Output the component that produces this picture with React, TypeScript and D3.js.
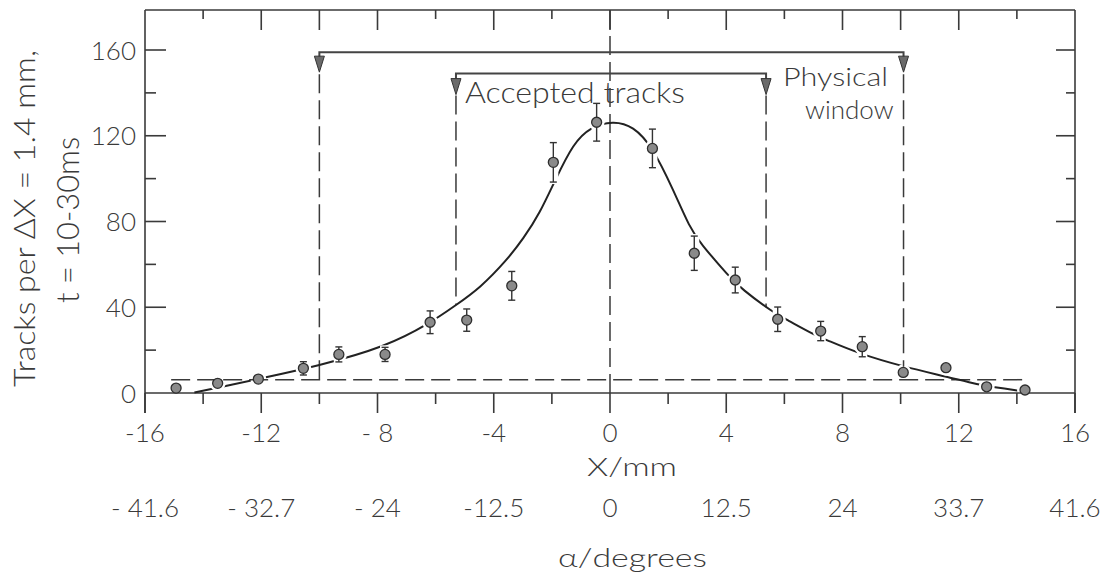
import React from "react";
import * as d3 from "d3";

// ---- data ----
const pointX = [-14.93, -13.5, -12.1, -10.55, -9.33, -7.74, -6.19, -4.93, -3.38, -1.95, -0.46, 1.46, 2.9, 4.31, 5.77, 7.25, 8.68, 10.09, 11.56, 12.96, 14.28];
const pointY = [2.3, 4.5, 6.5, 11.5, 18, 18, 33, 34, 50, 107.6, 126.3, 114.1, 65.2, 52.7, 34.4, 28.9, 21.6, 9.6, 11.8, 2.9, 1.4];
const pointErr = [0, 0, 0, 3.1, 3.5, 3.3, 5.3, 5.2, 6.7, 9.2, 8.8, 9, 8, 6, 5.7, 4.5, 4.7, 0, 0, 0, 0];

const curveX = [-14.3, -13.3, -12.1, -10.05, -7.7, -6.2, -5.3, -4.47, -3.55, -2.98, -2.41, -1.89, -1.26, -0.69, 0.11, 0.8, 1.46, 2.18, 2.75, 3.1, 4.1, 4.53, 5.62, 6.06, 7.05, 7.46, 8.54, 10.09, 11.59, 12.73, 13.18, 14.04, 14.4];
const curveY = [0.2, 3.0, 6.6, 12.6, 21.6, 32.5, 41, 49, 62, 72, 84, 99.3, 116.5, 124, 127, 124.5, 114.9, 94.7, 77, 70, 54.3, 48.5, 37.5, 34.4, 27, 24.7, 18.5, 12.3, 7.6, 3.7, 2.9, 1.1, 0.6];

const xMajorTicks = [-16, -12, -8, -4, 0, 4, 8, 12, 16];
const xMinorTicks = [-14, -10, -6, -2, 2, 6, 10, 14];
const xTopLongTicks = [-12, -10, -8, -4, 0, 4, 8, 10, 12];
const xTickLabels = ["-16", "-12", "- 8", "-4", "0", "4", "8", "12", "16"];
const degreeLabels = ["- 41.6", "- 32.7", "- 24", "-12.5", "0", "12.5", "24", "33.7", "41.6"];
const yMajorTicks = [0, 40, 80, 120, 160];
const yMinorTicks = [20, 60, 100, 140];

const physicalWindow = [-10.0, 10.1];
const physicalLevel = 159;
const physicalEnds = [6.2, 12.3];
const acceptedWindow = [-5.3, 5.37];
const acceptedLevel = 149;
const acceptedEnds = [41, 40];
const background = 6.2;
const backgroundRange = [-15.1, 14.4];

const FONT = "Lato, 'Noto Sans', 'DejaVu Sans', sans-serif";
const INK = "#3a3a3a";

export default function App() {
  const left = 145, right = 1075, top = 10, bottom = 393;
  const x = d3.scaleLinear().domain([-16, 16]).range([left, right]);
  const y = d3.scaleLinear().domain([0, 160]).range([bottom, 50]);

  const curvePts: [number, number][] = curveX.map((v, i) => [x(v), y(curveY[i])]);
  const line = d3.line().curve(d3.curveBasis);
  const curvePath = line(curvePts) || "";

  const tri = (cx: number, yTop: number, h: number) =>
    `M${cx - 5},${yTop} L${cx + 5},${yTop} L${cx},${yTop + h} Z`;

  const physTopY = y(physicalLevel);
  const accTopY = y(acceptedLevel);

  const textStyle: React.CSSProperties = { fontFamily: FONT, fontWeight: 300, fill: INK };

  return (
    <svg width={1106} height={583} style={{ position: "absolute", left: 0, top: 0, background: "#fff" }}>
      <defs>
        <mask id="curveMask" maskUnits="userSpaceOnUse" x={0} y={0} width={1106} height={583}>
          <rect x={0} y={0} width={1106} height={583} fill="#fff" />
          {pointX.map((px, i) => (
            <g key={i}>
              <circle cx={x(px)} cy={y(pointY[i])} r={8} fill="#000" />
              {pointErr[i] > 0 && (
                <rect x={x(px) - 5} y={y(pointY[i] + pointErr[i]) - 2} width={10}
                  height={y(pointY[i] - pointErr[i]) - y(pointY[i] + pointErr[i]) + 4} fill="#000" />
              )}
            </g>
          ))}
        </mask>
      </defs>

      {/* frame */}
      <g stroke={INK} strokeWidth={1.6} fill="none">
        <line x1={left} y1={top} x2={right} y2={top} />
        <line x1={left} y1={top} x2={left} y2={bottom + 20} />
        <line x1={right} y1={top} x2={right} y2={bottom + 20} />
        <line x1={left} y1={bottom} x2={right} y2={bottom} />
        {xMajorTicks.map((t) => <line key={"bM" + t} x1={x(t)} x2={x(t)} y1={bottom} y2={bottom + 20} />)}
        {xMinorTicks.map((t) => <line key={"bm" + t} x1={x(t)} x2={x(t)} y1={bottom} y2={bottom + 11} />)}
        {xMajorTicks.concat(xMinorTicks).filter((t) => t > -16 && t < 16).map((t) => (
          <line key={"t" + t} x1={x(t)} x2={x(t)} y1={top} y2={top + (xTopLongTicks.includes(t) ? 20 : 9)} />
        ))}
        {yMajorTicks.filter((t) => t > 0).map((t) => <line key={"lM" + t} x1={left} x2={left + 21} y1={y(t)} y2={y(t)} />)}
        {yMinorTicks.map((t) => <line key={"lm" + t} x1={left} x2={left + 11} y1={y(t)} y2={y(t)} />)}
        {yMajorTicks.filter((t) => t > 0).map((t) => <line key={"rM" + t} x1={right} x2={right - 19} y1={y(t)} y2={y(t)} />)}
        {yMinorTicks.map((t) => <line key={"rm" + t} x1={right} x2={right - 9} y1={y(t)} y2={y(t)} />)}
      </g>

      {/* dashed reference lines */}
      <g stroke={INK} strokeWidth={1.5} fill="none" strokeDasharray="19 7">
        <line x1={x(backgroundRange[0])} x2={x(backgroundRange[1])} y1={y(background)} y2={y(background)} />
        <line x1={x(0)} x2={x(0)} y1={top} y2={bottom} />
        <line x1={x(physicalWindow[0])} x2={x(physicalWindow[0])} y1={physTopY + 22} y2={y(physicalEnds[0])} />
        <line x1={x(physicalWindow[1])} x2={x(physicalWindow[1])} y1={physTopY + 22} y2={y(physicalEnds[1])} />
        <line x1={x(acceptedWindow[0])} x2={x(acceptedWindow[0])} y1={accTopY + 22} y2={y(acceptedEnds[0])} />
        <line x1={x(acceptedWindow[1])} x2={x(acceptedWindow[1])} y1={accTopY + 22} y2={y(acceptedEnds[1])} />
      </g>

      {/* brackets */}
      <g stroke="#444" strokeWidth={2} fill="none">
        <polyline points={`${x(physicalWindow[0])},${physTopY + 6} ${x(physicalWindow[0])},${physTopY} ${x(physicalWindow[1])},${physTopY} ${x(physicalWindow[1])},${physTopY + 6}`} />
        <polyline points={`${x(acceptedWindow[0])},${accTopY + 6} ${x(acceptedWindow[0])},${accTopY} ${x(acceptedWindow[1])},${accTopY} ${x(acceptedWindow[1])},${accTopY + 6}`} />
      </g>
      <g fill="#6a6a6a" stroke="#333" strokeWidth={1}>
        <path d={tri(x(physicalWindow[0]), physTopY + 4, 16)} />
        <path d={tri(x(physicalWindow[1]), physTopY + 4, 16)} />
        <path d={tri(x(acceptedWindow[0]), accTopY + 5, 16)} />
        <path d={tri(x(acceptedWindow[1]), accTopY + 5, 16)} />
      </g>

      {/* fitted curve */}
      <path d={curvePath} fill="none" stroke="#222" strokeWidth={2} mask="url(#curveMask)" />

      {/* error bars and points */}
      <g stroke="#333" strokeWidth={1.4}>
        {pointX.map((px, i) =>
          pointErr[i] > 0 ? (
            <g key={"e" + i}>
              <line x1={x(px)} x2={x(px)} y1={y(pointY[i] + pointErr[i])} y2={y(pointY[i] - pointErr[i])} />
              <line x1={x(px) - 3.5} x2={x(px) + 3.5} y1={y(pointY[i] + pointErr[i])} y2={y(pointY[i] + pointErr[i])} />
              <line x1={x(px) - 3.5} x2={x(px) + 3.5} y1={y(pointY[i] - pointErr[i])} y2={y(pointY[i] - pointErr[i])} />
            </g>
          ) : null
        )}
      </g>
      <g fill="#8a8a8a" stroke="#2e2e2e" strokeWidth={1.3}>
        {pointX.map((px, i) => <circle key={"p" + i} cx={x(px)} cy={y(pointY[i])} r={5} />)}
      </g>

      {/* tick labels */}
      <g style={textStyle} fontSize={26}>
        {yMajorTicks.map((t) => (
          <text key={"yl" + t} x={left - 9} y={y(t) + 9.5} textAnchor="end">{t}</text>
        ))}
        {xMajorTicks.map((t, i) => (
          <text key={"xl" + t} x={x(t)} y={442} textAnchor="middle">{xTickLabels[i]}</text>
        ))}
        {xMajorTicks.map((t, i) => (
          <text key={"dl" + t} x={x(t)} y={517} textAnchor="middle">{degreeLabels[i]}</text>
        ))}
        <text x={587} y={476} textLength={90} lengthAdjust="spacingAndGlyphs">X/mm</text>
        <text x={558} y={567} textLength={149} lengthAdjust="spacingAndGlyphs">α/degrees</text>
      </g>

      {/* annotations */}
      <g style={textStyle}>
        <text x={465} y={103} fontSize={29} textLength={220} lengthAdjust="spacingAndGlyphs">Accepted tracks</text>
        <text x={783} y={86} fontSize={26} textLength={105} lengthAdjust="spacingAndGlyphs">Physical</text>
        <text x={805} y={119} fontSize={26}>window</text>
      </g>

      {/* y-axis title */}
      <g style={textStyle}>
        <text x={-387} y={35} transform="rotate(-90)" fontSize={30} textLength={337} lengthAdjust="spacingAndGlyphs">Tracks per ΔX = 1.4 mm,</text>
        <text x={-303} y={79} transform="rotate(-90)" fontSize={32} textLength={166} lengthAdjust="spacingAndGlyphs">t = 10-30ms</text>
      </g>
    </svg>
  );
}
